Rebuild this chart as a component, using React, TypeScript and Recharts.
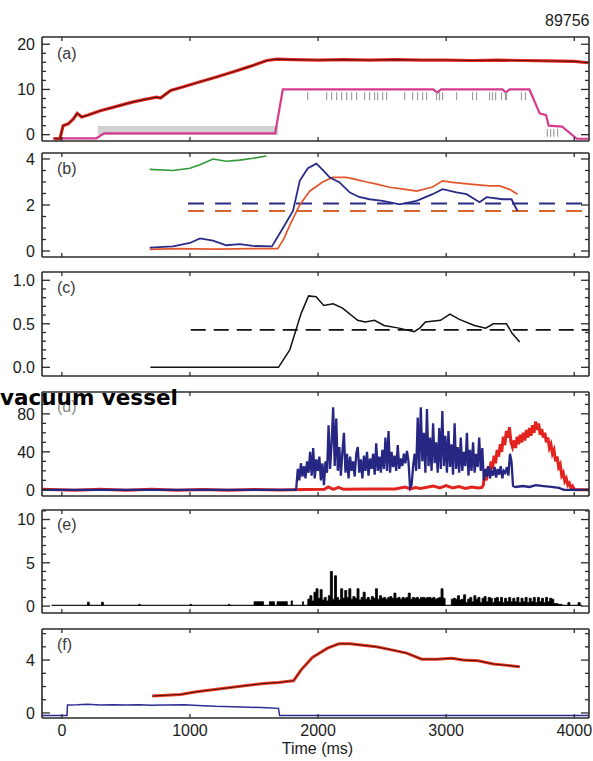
import React from 'react';
import { ComposedChart, Line, Area, Scatter, XAxis, YAxis } from 'recharts';

// ---------- shared axis data ----------
const X_DOMAIN: [number, number] = [-155, 4115];
const X_TICKS = [0, 1000, 2000, 3000, 4000];
const SHOT_LABEL = '89756';
const X_TITLE = 'Time (ms)';
const OVERLAY_TEXT = 'vacuum vessel';

// ---------- panel (a) ----------
const aRedTime = [-60, -15, 10, 50, 90, 120, 155, 200, 300, 420, 550, 650, 740, 770, 850, 950, 1080, 1200, 1340, 1470, 1600, 1680, 1800, 2000, 2200, 2400, 2600, 2800, 3000, 3200, 3400, 3600, 3800, 4000, 4110];
const aRedVal = [-0.9, -0.9, 2.0, 2.4, 3.5, 4.7, 3.9, 4.3, 5.3, 6.2, 7.2, 7.8, 8.3, 8.1, 9.8, 10.6, 11.7, 12.7, 13.9, 15.1, 16.4, 16.7, 16.6, 16.5, 16.6, 16.5, 16.6, 16.5, 16.5, 16.4, 16.5, 16.4, 16.3, 16.2, 15.9];
const aMagTime = [-70, 270, 330, 1000, 1665, 1725, 2900, 2930, 2960, 3440, 3465, 3495, 3650, 3730, 3780, 3800, 3905, 4020, 4110];
const aMagVal = [-0.8, -0.8, 0.3, 0.3, 0.3, 10, 10, 9.3, 10, 10, 9.3, 10, 10, 4.7, 4.3, 2.0, 1.8, -0.9, -0.9];
const aBandTime = [280, 1690];
const aBandVal = [0.9, 0.9];
const aDashTime = [1919, 2067, 2106, 2145, 2184, 2223, 2262, 2301, 2363, 2402, 2441, 2465, 2504, 2535, 2676, 2738, 2777, 2816, 2847, 2925, 2948, 2972, 3081, 3206, 3237, 3339, 3362, 3386, 3432, 3463, 3471, 3588, 3619];
const aDashVal = aDashTime.map(() => 8.5);
const aLowDashTime = [3790, 3815, 3840, 3870];
const aLowDashVal = [0.4, 0.4, 0.4, 0.4];

// ---------- panel (b) ----------
const bGreenTime = [686, 868, 1000, 1078, 1180, 1284, 1388, 1492, 1596];
const bGreenVal = [3.55, 3.5, 3.6, 3.75, 4.0, 3.9, 3.95, 4.03, 4.13];
const bBlueTime = [686, 868, 1000, 1078, 1180, 1284, 1388, 1492, 1640, 1726, 1805, 1857, 1920, 1987, 2040, 2090, 2168, 2246, 2320, 2402, 2504, 2637, 2769, 2894, 2972, 3081, 3159, 3261, 3315, 3440, 3510, 3557];
const bBlueVal = [0.15, 0.2, 0.35, 0.55, 0.45, 0.25, 0.3, 0.22, 0.2, 1.0, 1.75, 3.05, 3.6, 3.8, 3.5, 3.2, 2.98, 2.55, 2.35, 2.25, 2.18, 2.03, 2.18, 2.47, 2.69, 2.55, 2.47, 2.12, 2.34, 2.25, 2.25, 1.74];
const bOrangeTime = [686, 900, 1200, 1500, 1685, 1730, 1778, 1857, 1934, 2036, 2114, 2223, 2300, 2379, 2450, 2558, 2680, 2769, 2894, 2972, 3050, 3206, 3339, 3417, 3495, 3557];
const bOrangeVal = [0.07, 0.1, 0.08, 0.1, 0.1, 0.5, 1.1, 2.0, 2.6, 3.0, 3.2, 3.2, 3.1, 3.0, 2.92, 2.77, 2.68, 2.6, 2.78, 3.05, 2.98, 2.9, 2.83, 2.83, 2.68, 2.47];
const bDashTime = [985, 4115];
const bBlueRef = [2.06, 2.06];
const bOrangeRef = [1.74, 1.74];

// ---------- panel (c) ----------
const cTime = [691, 1200, 1691, 1779, 1868, 1926, 1985, 2044, 2118, 2191, 2309, 2368, 2441, 2515, 2632, 2750, 2794, 2838, 2956, 3029, 3103, 3221, 3309, 3368, 3471, 3515, 3574];
const cVal = [0, 0, 0, 0.2, 0.62, 0.82, 0.81, 0.71, 0.73, 0.68, 0.54, 0.52, 0.54, 0.48, 0.45, 0.41, 0.45, 0.52, 0.54, 0.61, 0.55, 0.48, 0.45, 0.5, 0.5, 0.39, 0.29];
const cDashTime = [1006, 4115];
const cDashVal = [0.43, 0.43];

// ---------- panel (d) ----------
const dBlueHeadTime = [-155, 1825];
const dBlueHeadVal = [0, 0];
const dBlueStart = 1830;
const dBlueStep = 12;
const dBlueDense = [
  2, 22, 10, 28, 14, 25, 12, 30, 18, 40,
  15, 44, 12, 32, 20, 35, 10, 28, 5, 30,
  18, 68, 22, 50, 87, 25, 75, 20, 45, 15,
  40, 60, 18, 38, 12, 35, 20, 30, 14, 38,
  45, 18, 32, 12, 36, 20, 40, 15, 33, 22,
  38, 16, 49, 20, 35, 18, 42, 22, 55, 20,
  62, 18, 40, 24, 36, 20, 47, 22, 33, 25,
  38, 28, 41, 30, 2, 5, 25, 38, 20, 76,
  22, 87, 30, 60, 18, 85, 25, 55, 20, 70,
  28, 50, 18, 65, 22, 83, 25, 57, 18, 62,
  24, 48, 16, 70, 22, 45, 18, 55, 20, 40,
  25, 60, 15, 42, 20, 50, 18, 38, 24, 55,
  20, 44, 10, 22, 14, 25, 12, 20, 15, 24,
  13, 22, 16, 25, 12, 20, 18, 24, 15, 38,
  30, 4,
];
const dBlueTailTime = [3540, 3600, 3650, 3700, 3760, 3820, 3880, 3920, 4115];
const dBlueTailVal = [3, 4, 3, 5, 4, 3, 2, 0, 0];
const dRedHeadTime = [-155, 100, 300, 500, 700, 900, 1100, 1300, 1500, 1700, 1900, 2050, 2080, 2120, 2160, 2200, 2400, 2600, 2680, 2720, 2760, 2800, 2900, 2950, 3000, 3050, 3100, 3150, 3200, 3250, 3280];
const dRedHeadVal = [0.5, -0.5, 0.6, -0.4, 0.5, -0.5, 0.4, -0.4, 0.3, -0.2, 0.3, 0.5, 3, 0.5, 2.5, 0.5, 0.8, 1.0, 3, 1, 2.5, 1.5, 4, 2, 4.5, 2, 3.5, 1.5, 3, 2, 2.5];
const dRedStart = 3290;
const dRedStep = 12;
const dRedDense = [
  5, 18, 10, 24, 15, 30, 22, 36, 28, 42,
  35, 48, 40, 56, 47, 62, 55, 66, 50, 45,
  52, 44, 56, 48, 58, 50, 60, 52, 63, 55,
  65, 57, 68, 60, 72, 63, 70, 58, 64, 55,
  60, 50, 55, 44, 48, 38, 42, 30, 35, 24,
  27, 15, 18, 9, 12, 5, 7, 2, 4, 1,
];
const dRedTailTime = [4010, 4115];
const dRedTailVal = [0, 0];

// ---------- panel (e) ----------
const eSparseTime = [-80, 200, 214, 310, 324, 600, 612, 1000, 1012, 1300, 1312, 1500, 1574, 1620, 1660, 1680, 1760, 1790, 1800, 1878, 1886];
const eSparseVal = [0.1, 0.45, 0.1, 0.45, 0.1, 0.2, 0.1, 0.2, 0.1, 0.2, 0.1, 0.5, 0.1, 0.5, 0.1, 0.5, 0.1, 0.6, 0.1, 0.5, 0.1];
const eStart = 1920;
const eStep = 16;
const eDense = [
  0.8, 1.2, 0.6, 1.6, 2.0, 0.9, 1.9, 0.7, 1.0, 0.6,
  1.2, 4.0, 0.8, 3.5, 1.0, 0.7, 2.0, 0.9, 1.8, 1.0,
  2.0, 0.8, 1.1, 0.9, 2.0, 0.7, 1.0, 1.6, 0.8, 1.0,
  0.7, 1.1, 0.9, 2.0, 0.8, 1.2, 0.9, 1.0, 0.8, 1.0,
  1.1, 0.9, 1.5, 0.9, 1.0, 0.8, 1.0, 0.9, 1.0, 1.5,
  0.8, 1.0, 0.9, 1.0, 0.8, 1.0, 1.0, 0.9, 1.0, 1.0,
  0.9, 1.0, 0.8, 0.9, 1.0, 2.0, 0.9, 0.1, 0.1, 0.1,
  0.8, 0.9, 0.8, 1.2, 0.7, 0.8, 1.3, 0.4, 0.8, 1.0,
  0.5, 1.2, 0.8, 1.0, 0.4, 0.9, 1.1, 0.5, 1.0, 0.9,
  0.4, 0.9, 1.0, 0.5, 1.0, 0.4, 0.9, 0.5, 1.0, 0.5,
  0.9, 0.5, 1.0, 0.4, 0.9, 0.5, 1.0, 0.4, 0.9, 0.5,
  1.0, 0.4, 1.0, 0.5, 0.9, 0.4, 1.0, 0.5, 0.9, 0.8,
  0.3, 0.3, 0.2, 0.2,
];
const eTailTime = [3904, 3950, 3966, 4030, 4046, 4060];
const eTailVal = [0.1, 0.4, 0.1, 0.4, 0.1, 0];

// ---------- panel (f) ----------
const fRedTime = [706, 926, 1050, 1162, 1300, 1456, 1600, 1691, 1770, 1809, 1868, 1956, 2074, 2162, 2250, 2368, 2456, 2574, 2691, 2809, 2926, 3044, 3132, 3250, 3368, 3480, 3574];
const fRedVal = [1.28, 1.4, 1.6, 1.74, 1.9, 2.1, 2.25, 2.3, 2.4, 2.44, 3.26, 4.2, 4.9, 5.23, 5.23, 5.1, 5.0, 4.77, 4.53, 4.07, 4.07, 4.14, 4.0, 3.95, 3.7, 3.6, 3.49];
const fBlueTime = [-155, 40, 44, 120, 200, 300, 400, 500, 600, 700, 800, 956, 1100, 1200, 1400, 1600, 1691, 1700, 4115];
const fBlueVal = [-0.2, -0.2, 0.6, 0.62, 0.66, 0.6, 0.63, 0.6, 0.62, 0.58, 0.6, 0.62, 0.55, 0.5, 0.45, 0.4, 0.35, -0.2, -0.2];

// ---------- helpers ----------
const zip = (ts: number[], vs: number[]) => ts.map((t, i) => ({ t, v: vs[i] }));
const onGrid = (t0: number, dt: number, vs: number[]) => vs.map((v, i) => ({ t: t0 + dt * i, v }));
const range = (a: number, b: number, s: number) => {
  const out: number[] = [];
  for (let i = 0; a + i * s <= b + 1e-9; i++) out.push(Math.round((a + i * s) * 1000) / 1000);
  return out;
};

const aRed = zip(aRedTime, aRedVal);
const aMag = zip(aMagTime, aMagVal);
const aBand = zip(aBandTime, aBandVal);
const aDash = zip(aDashTime, aDashVal);
const aLowDash = zip(aLowDashTime, aLowDashVal);
const bGreen = zip(bGreenTime, bGreenVal);
const bBlue = zip(bBlueTime, bBlueVal);
const bOrange = zip(bOrangeTime, bOrangeVal);
const bBlueDash = zip(bDashTime, bBlueRef);
const bOrangeDash = zip(bDashTime, bOrangeRef);
const cLine = zip(cTime, cVal);
const cDash = zip(cDashTime, cDashVal);
const dBlue = [...zip(dBlueHeadTime, dBlueHeadVal), ...onGrid(dBlueStart, dBlueStep, dBlueDense), ...zip(dBlueTailTime, dBlueTailVal)];
const dRed = [...zip(dRedHeadTime, dRedHeadVal), ...onGrid(dRedStart, dRedStep, dRedDense), ...zip(dRedTailTime, dRedTailVal)];
const eBars = [...zip(eSparseTime, eSparseVal), ...onGrid(eStart, eStep, eDense), ...zip(eTailTime, eTailVal)];
const fRed = zip(fRedTime, fRedVal);
const fBlue = zip(fBlueTime, fBlueVal);

// ---------- styling ----------
const FONT = '"Liberation Sans", Arial, Helvetica, sans-serif';
const FRAME = '#2b2b2b';
const TEXT = '#1c1c1c';
const PLOT_LEFT = 42;
const PLOT_RIGHT = 589;
const WIDTH = 593;

type PanelProps = {
  top: number;
  bottom: number;
  domain: [number, number];
  major: number[];
  minor: number[];
  fmt: (v: number) => string;
  showX?: boolean;
  children?: React.ReactNode;
};

const near = (list: number[], v: number) => list.some((m) => Math.abs(m - v) < 1e-6);

function Panel({ top, bottom, domain, major, minor, fmt, showX, children }: PanelProps) {
  const padTop = 6;
  const padBottom = showX ? 34 : 6;
  const h = bottom - top;
  const total = h + padTop + padBottom;

  const leftTick = (p: any) => {
    const v = p.payload.value;
    const isMajor = near(major, v);
    return (
      <g>
        <line x1={p.x} x2={p.x + (isMajor ? 8 : 4)} y1={p.y} y2={p.y} stroke={FRAME} strokeWidth={1.3} />
        {isMajor && (
          <text x={p.x - 7} y={p.y} dy="0.36em" textAnchor="end" fontFamily={FONT} fontSize={16} fill={TEXT}>
            {fmt(v)}
          </text>
        )}
      </g>
    );
  };
  const rightTick = (p: any) => {
    const v = p.payload.value;
    const isMajor = near(major, v);
    return <line x1={p.x} x2={p.x - (isMajor ? 8 : 4)} y1={p.y} y2={p.y} stroke={FRAME} strokeWidth={1.3} />;
  };
  const bottomTick = (p: any) => (
    <g>
      <line x1={p.x} x2={p.x} y1={p.y} y2={p.y - 4} stroke={FRAME} strokeWidth={1.3} />
      {showX && (
        <text x={p.x} y={p.y + 18} textAnchor="middle" fontFamily={FONT} fontSize={16} fill={TEXT}>
          {String(p.payload.value)}
        </text>
      )}
    </g>
  );
  const topTick = (p: any) => <line x1={p.x} x2={p.x} y1={p.y} y2={p.y + 4} stroke={FRAME} strokeWidth={1.3} />;

  const yTicks = Array.from(new Set([...minor, ...major])).sort((a, b) => a - b);

  return (
    <div style={{ position: 'absolute', left: 0, top: top - padTop, width: WIDTH, height: total }}>
      <ComposedChart width={WIDTH} height={total} margin={{ top: padTop - 1, right: 0, bottom: padBottom - 1, left: 0 }}>
        <XAxis xAxisId="b" type="number" dataKey="t" domain={X_DOMAIN} allowDataOverflow ticks={X_TICKS} interval={0} height={1} tickSize={0} tickMargin={0} tickLine={false} axisLine={{ stroke: FRAME, strokeWidth: 1.6 }} tick={bottomTick} />
        <XAxis xAxisId="top" orientation="top" type="number" dataKey="t" domain={X_DOMAIN} allowDataOverflow ticks={X_TICKS} interval={0} height={1} tickSize={0} tickMargin={0} tickLine={false} axisLine={{ stroke: FRAME, strokeWidth: 1.6 }} tick={topTick} />
        <YAxis yAxisId="l" type="number" domain={domain} allowDataOverflow ticks={yTicks} interval={0} width={PLOT_LEFT} tickSize={0} tickMargin={0} tickLine={false} axisLine={{ stroke: FRAME, strokeWidth: 1.6 }} tick={leftTick} />
        <YAxis yAxisId="r" orientation="right" type="number" domain={domain} allowDataOverflow ticks={yTicks} interval={0} width={WIDTH - PLOT_RIGHT} tickSize={0} tickMargin={0} tickLine={false} axisLine={{ stroke: FRAME, strokeWidth: 1.6 }} tick={rightTick} />
        {children}
      </ComposedChart>
    </div>
  );
}

const line = (key: string, data: any[], stroke: string, width: number, dash?: string) => (
  <Line key={key} data={data} dataKey="v" xAxisId="b" yAxisId="l" type="linear" stroke={stroke} strokeWidth={width} strokeDasharray={dash} dot={false} activeDot={false} isAnimationActive={false} />
);

const GrayDash = (p: any) => <line x1={p.cx} x2={p.cx} y1={p.cy - 4} y2={p.cy + 4} stroke="#9d9d9d" strokeWidth={1.2} />;

const panelLabel = (text: string, top: number, color = '#3a3a3a') => (
  <div style={{ position: 'absolute', left: 57, top, fontFamily: FONT, fontSize: 16, lineHeight: '16px', color }}>{text}</div>
);

export default function App() {
  return (
    <div style={{ position: 'absolute', left: 0, top: 0, width: 593, height: 761, background: '#fff', overflow: 'hidden' }}>
      <div style={{ position: 'absolute', left: 545, top: 13, fontFamily: FONT, fontSize: 16, lineHeight: '16px', color: TEXT }}>{SHOT_LABEL}</div>

      <Panel top={37} bottom={141} domain={[-1.4, 21.6]} major={[0, 10, 20]} minor={range(0, 20, 2)} fmt={(v) => String(v)}>
        {[
          line('aband', aBand, '#d2d2d2', 9),
          line('amag', aMag, '#d43c8e', 2.2),
          <Scatter key="adash" data={aDash} dataKey="v" xAxisId="b" yAxisId="l" shape={GrayDash} isAnimationActive={false} />,
          <Scatter key="alow" data={aLowDash} dataKey="v" xAxisId="b" yAxisId="l" shape={GrayDash} isAnimationActive={false} />,
          line('aredh', aRed, '#ec2a1e', 3.2),
          line('aredc', aRed, '#5a1212', 1.1),
        ]}
      </Panel>

      <Panel top={153} bottom={257} domain={[-0.26, 4.26]} major={[0, 2, 4]} minor={range(0, 4, 0.5)} fmt={(v) => String(v)}>
        {[
          line('bgreen', bGreen, '#2e9a3a', 1.6),
          line('bod', bOrangeDash, '#d9652e', 2, '16 11'),
          line('bbd', bBlueDash, '#2b2b86', 2, '16 11'),
          line('borange', bOrange, '#e2562c', 1.7),
          line('bblue', bBlue, '#2b2b88', 1.8),
        ]}
      </Panel>

      <Panel top={272} bottom={376} domain={[-0.1, 1.095]} major={[0, 0.5, 1]} minor={range(0, 1, 0.1)} fmt={(v) => v.toFixed(1)}>
        {[
          line('cdash', cDash, '#111', 1.8, '15 8'),
          line('cline', cLine, '#111', 1.5),
        ]}
      </Panel>

      <Panel top={392} bottom={496} domain={[-6.5, 103]} major={[0, 40, 80]} minor={range(0, 100, 10)} fmt={(v) => String(v)}>
        {[
          line('dred', dRed, '#e3231d', 3),
          line('dblue', dBlue, '#272783', 2.3),
        ]}
      </Panel>

      <Panel top={510} bottom={613} domain={[-0.8, 11.1]} major={[0, 5, 10]} minor={range(0, 11, 1)} fmt={(v) => String(v)}>
        {[
          <Area key="ebars" data={eBars} dataKey="v" xAxisId="b" yAxisId="l" type="stepAfter" stroke="#000" strokeWidth={0.8} fill="#000" fillOpacity={1} dot={false} activeDot={false} isAnimationActive={false} />,
        ]}
      </Panel>

      <Panel top={629} bottom={718} domain={[-0.38, 6.35]} major={[0, 4]} minor={range(0, 6, 1)} fmt={(v) => String(v)} showX>
        {[
          line('fblue', fBlue, '#2c2c94', 1.5),
          line('fredh', fRed, '#ec3a1e', 3),
          line('fredc', fRed, '#4a1010', 1),
        ]}
      </Panel>

      {panelLabel('(a)', 46)}
      {panelLabel('(b)', 161)}
      {panelLabel('(c)', 280)}
      {panelLabel('(d)', 399, '#8a8a8a')}
      {panelLabel('(e)', 517)}
      {panelLabel('(f)', 637)}

      <div style={{ position: 'absolute', left: 0, top: 741, width: 635, textAlign: 'center', fontFamily: FONT, fontSize: 16, lineHeight: '16px', color: TEXT }}>{X_TITLE}</div>

      <div style={{ position: 'absolute', left: 0, top: 387, fontFamily: '"DejaVu Sans", sans-serif', fontWeight: 'bold', fontSize: 21.5, lineHeight: '21.5px', color: '#000', whiteSpace: 'nowrap' }}>{OVERLAY_TEXT}</div>
    </div>
  );
}
